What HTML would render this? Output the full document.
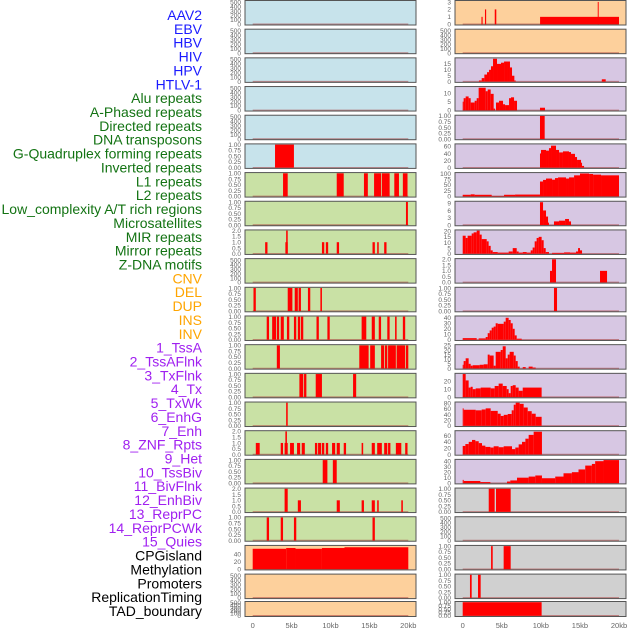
<!DOCTYPE html>
<html><head><meta charset="utf-8"><style>
html,body{margin:0;padding:0;background:#fff;}
svg{display:block;font-family:"Liberation Sans",sans-serif;}
</style></head><body>
<svg id="chart" width="630" height="630" viewBox="0 0 630 630" xmlns="http://www.w3.org/2000/svg"></svg>
<script>
const trackLabels=["AAV2","EBV","HBV","HIV","HPV","HTLV-1","Alu repeats","A-Phased repeats","Directed repeats","DNA transposons","G-Quadruplex forming repeats","Inverted repeats","L1 repeats","L2 repeats","Low_complexity A/T rich regions","Microsatellites","MIR repeats","Mirror repeats","Z-DNA motifs","CNV","DEL","DUP","INS","INV","1_TssA","2_TssAFlnk","3_TxFlnk","4_Tx","5_TxWk","6_EnhG","7_Enh","8_ZNF_Rpts","9_Het","10_TssBiv","11_BivFlnk","12_EnhBiv","13_ReprPC","14_ReprPCWk","15_Quies","CPGisland","Methylation","Promoters","ReplicationTiming","TAD_boundary"];
const xTickValues=[0,5,10,15,20];
const xTickLabels=["0","5kb","10kb","15kb","20kb"];
// tick kinds: c=counts 0..500, p=0..1, d=0..2, or explicit array
const ticksL=["c","c","c","c","c","p","p","p","d","c","p","p","p","p","p","d","p","d","p",[0,20,40],"c","c"];
const ymaxL=[520,520,520,520,520,1,1,1,2,520,1,1,1,1,1,2,1,2,1,61,520,520];
const segsL=[
[],[],[],[],[],
[[2.87,5.3,1]],
[[3.9,4.5,1],[10.8,11.7,1],[14.3,14.8,1],[15.6,16.5,1],[16.6,17.6,1],[18.2,18.8,1],[19.3,19.9,1]],
[[19.7,19.95,1]],
[[1.6,1.9,1],[4.2,4.5,1],[4.3,4.5,2],[8.9,9.2,1],[9.4,9.7,1],[10.8,11.1,1],[15.4,15.7,1],[16.0,16.2,1],[16.9,17.2,1]],
[],
[[0.1,0.4,1],[4.5,5.1,1],[5.4,5.8,1],[5.9,6.2,1],[7.1,7.4,1],[8.7,8.9,1]],
[[1.8,2.1,1],[2.5,3.0,1],[3.1,3.4,1],[3.6,4.0,1],[4.4,4.7,1],[5.3,5.6,1],[5.8,6.1,1],[6.2,6.5,1],[8.2,8.5,1],[9.6,9.9,1],[14.0,14.6,1],[15.3,15.7,1],[16.2,16.5,1],[17.3,17.6,1],[18.3,18.5,1],[19.3,19.6,1]],
[[3.1,3.5,1],[13.7,14.9,1],[15.1,15.7,1],[16.5,16.9,1],[17.0,17.3,1],[17.4,18.4,1],[18.5,19.6,1],[19.7,20,1]],
[[6.0,6.5,1],[6.6,6.9,1],[8.1,8.9,1],[12.9,13.3,1]],
[[4.3,4.5,1]],
[[0.4,0.9,1],[3.6,3.9,1],[4.1,4.5,1],[4.2,4.4,2],[4.8,5.3,1],[5.7,6.1,1],[6.3,6.7,1],[8.0,8.3,1],[8.4,8.8,1],[8.9,9.2,1],[9.4,9.7,1],[10.2,10.6,1],[10.8,11.2,1],[11.7,12.0,1],[14.0,14.2,1],[15.3,15.7,1],[16.0,16.6,1],[16.9,17.3,1],[17.4,17.7,1],[18.4,19.1,1],[19.6,19.9,1]],
[[9.0,9.6,1],[10.3,10.8,1]],
[[4.1,4.5,2],[5.8,6.2,1],[10.8,11.2,1],[14.0,14.3,1],[15.3,15.7,1],[16.0,16.2,1],[19.1,19.3,1]],
[[1.8,2.1,1],[3.6,3.9,1],[5.3,5.6,1],[15.4,15.7,1]],
[[0,4.3,54],[4.3,5.5,56],[5.5,8.9,54],[8.9,11.8,56],[11.8,20,58]],
[],[]
];
const ticksR=[[0,1,2,3],"c",[0,5,10,15],[0,5,10],"p",[0,20,40,60],[0,25,50,75,100],[0,3,6,9],[0,5,10,15,20],"d","p",[0,10,20,30,40],[0,5,10,15,20,25],[0,10,20],[0,20,40,60,80],[0,20,40,60],[0,10,20,30,40],"p","c","p","p","p"];
const ymaxR=[3.1,520,19.5,13.3,1,65,101,9.5,20.5,2,1,42,25,29,82,73,42,1,520,1,1,1];
const segsR=[
[[2.4,2.55,1],[2.85,3.0,2],[4.1,4.3,2],[9.9,20,1],[17.28,17.4,3]],
[],
[[2.08,2.43,1],[2.43,2.77,3],[2.77,3.11,6],[3.11,3.37,8],[3.37,3.62,10],[3.62,3.88,13],[3.88,4.39,19.3],[4.39,4.9,15],[4.9,5.29,16],[5.29,5.67,17],[5.67,6.05,17],[6.05,6.31,12],[6.31,6.61,5],[6.61,6.78,1],[17.8,18.3,2]],
[[0,0.12,5],[0.12,0.38,7],[0.38,0.76,8],[0.76,1.02,7],[1.02,1.53,4.5],[1.53,1.79,5.5],[1.79,2.04,7],[2.04,2.94,13],[2.94,3.2,11],[3.2,3.58,12],[3.58,3.96,9.5],[3.96,4.14,1],[4.26,4.65,4.5],[4.65,5.16,5.5],[5.16,5.42,3.5],[5.42,5.93,3],[5.93,6.18,7],[6.18,6.57,7.5],[6.57,6.95,5.5],[9.89,10.53,1.5]],
[[9.89,10.49,1]],
[[9.89,10.02,40],[10.02,10.66,50],[10.66,11.04,48],[11.04,11.3,55],[11.3,11.94,62],[11.94,12.33,50],[12.33,12.83,43],[12.83,13.6,46],[13.6,13.86,44],[13.86,14.37,39],[14.37,14.63,30],[14.63,15.14,22],[15.14,15.27,14],[15.27,15.53,5]],
[[0,1.02,7],[1.02,1.53,9],[1.53,3.71,7],[3.71,5.29,2],[5.29,6.7,7],[6.7,9.89,8],[9.89,10.28,65],[10.28,10.66,72],[10.66,11.43,78],[11.43,11.81,73],[11.81,12.2,80],[12.2,13.22,83],[13.22,13.6,78],[13.6,14.25,83],[14.25,15.01,92],[15.01,16.17,100],[16.17,16.68,98],[16.68,17.7,95],[17.7,20,92]],
[[9.89,10.28,9.4],[10.28,10.66,6],[10.66,10.92,3.5],[10.92,11.04,1],[11.68,12.33,1.5],[12.33,13.1,1.8],[13.1,13.6,2.5],[13.6,13.86,1.5]],
[[0,0.38,16],[0.38,0.63,14],[0.63,1.15,16],[1.15,1.4,18],[1.4,1.79,19],[1.79,2.17,20.5],[2.17,2.43,17],[2.43,3.07,13],[3.07,3.32,11],[3.32,3.58,7],[3.58,3.84,3],[3.84,4.48,1.5],[4.48,5.88,1],[5.88,6.4,2],[6.4,6.91,5],[6.91,7.16,2],[7.16,7.68,1],[7.68,8.19,1.5],[8.19,8.7,1],[8.7,8.95,3],[8.95,9.21,5.5],[9.21,9.46,11],[9.46,9.72,14],[9.72,10.1,15],[10.1,10.36,12],[10.36,10.62,5],[10.62,11.04,1.5],[11.43,12.97,0.8],[12.97,13.73,1.2],[13.73,14.5,1],[14.5,14.76,2],[14.76,15.01,5],[15.01,15.27,3]],
[[11.17,11.43,1],[11.43,11.94,2],[17.57,18.47,1]],
[[11.68,12.07,1]],
[[0,1.79,3],[2.04,2.94,2.5],[2.94,3.2,5],[3.2,3.45,12],[3.45,3.71,17],[3.71,3.96,22],[3.96,4.22,24],[4.22,4.48,30],[4.48,5.25,29],[5.25,5.5,33],[5.5,5.88,40],[5.88,6.14,36],[6.14,6.4,30],[6.4,6.65,20],[6.65,6.91,8],[6.91,7.55,2]],
[[0,0.12,4],[0.12,0.38,8],[0.38,0.76,11],[0.76,1.02,5],[1.02,1.28,3],[1.28,2.17,3.5],[2.17,2.68,4],[2.68,3.2,4.5],[3.2,3.45,15],[3.45,3.96,14],[3.96,4.22,3],[4.22,4.86,18],[4.86,5.12,20],[5.12,5.5,24],[5.5,5.76,11],[5.76,6.01,15],[6.01,6.53,18],[6.53,6.78,14],[6.78,7.04,8],[7.04,7.29,2],[7.68,8.06,1.5],[8.44,8.95,2],[8.95,9.34,1]],
[[0,0.38,29],[0.38,0.76,21],[0.76,1.02,12],[1.02,1.28,13],[1.28,1.66,10],[1.66,2.3,11],[2.3,3.58,12],[3.58,4.09,11],[4.09,4.6,14],[4.6,5.12,17],[5.12,5.63,14],[5.63,5.88,10],[5.88,6.14,5],[6.14,6.4,14],[6.4,6.78,15],[6.78,7.16,12],[7.16,7.68,8],[7.68,10.1,12]],
[[0,0.12,62],[0.12,1.66,57],[1.66,2.43,55],[2.43,2.94,58],[2.94,3.58,62],[3.58,4.48,53],[4.48,4.86,43],[4.86,5.25,35],[5.25,5.76,39],[5.76,6.27,42],[6.27,6.53,55],[6.53,6.78,75],[6.78,7.29,82],[7.29,7.8,78],[7.8,8.32,65],[8.32,8.83,52],[8.83,9.34,43],[9.34,10.1,32]],
[[0,0.34,27],[0.34,0.77,33],[0.77,1.19,40],[1.19,1.62,46],[1.62,2.05,42],[2.05,2.47,36],[2.47,2.9,28],[2.9,3.54,24],[3.54,3.96,22],[3.96,4.6,26],[4.6,5.24,23],[5.24,6.31,26],[6.31,6.73,17],[6.73,7.16,22],[7.16,7.59,32],[7.59,8.02,40],[8.02,8.44,50],[8.44,9.08,62],[9.08,10.14,72]],
[[0,0.13,6],[0.13,2.26,4],[2.26,3.54,2],[5.67,6.09,3],[6.09,6.95,5],[6.95,8.44,10],[8.44,9.29,12],[9.29,10.14,14],[10.14,11.84,9],[11.84,12.9,12],[12.9,13.97,18],[13.97,14.82,20],[14.82,15.68,25],[15.68,16.53,32],[16.53,16.95,35],[16.95,18.02,40],[18.02,20,42]],
[[3.33,4.09,1],[4.26,6.14,1]],
[],
[[3.63,3.84,1],[5.24,6.14,1]],
[[0.93,1.15,1],[1.96,2.3,1]],
[[0,10.1,1]]
];
const bgL=["#c7e3eb","#c7e3eb","#c7e3eb","#c7e3eb","#c7e3eb","#c7e3eb","#c9e1a5","#c9e1a5","#c9e1a5","#c9e1a5","#c9e1a5","#c9e1a5","#c9e1a5","#c9e1a5","#c9e1a5","#c9e1a5","#c9e1a5","#c9e1a5","#c9e1a5","#fdd09c","#fdd09c","#fdd09c"];
const bgR=["#fdd09c","#fdd09c","#d7c7e3","#d7c7e3","#d7c7e3","#d7c7e3","#d7c7e3","#d7c7e3","#d7c7e3","#d7c7e3","#d7c7e3","#d7c7e3","#d7c7e3","#d7c7e3","#d7c7e3","#d7c7e3","#d7c7e3","#d0d0d0","#d0d0d0","#d0d0d0","#d0d0d0","#d0d0d0"];

const NS="http://www.w3.org/2000/svg";
const svg=document.getElementById("chart");
function mk(tag,attrs,parent){const e=document.createElementNS(NS,tag);for(const k in attrs)e.setAttribute(k,attrs[k]);(parent||svg).appendChild(e);return e;}

function labelColor(i){if(i<6)return"#1a1aff";if(i<19)return"#137313";if(i<24)return"#ffa500";if(i<39)return"#a020f0";return"#000";}
trackLabels.forEach((t,i)=>{
  const e=mk("text",{x:202,y:15+i*13.86+5,"text-anchor":"end","font-size":"14",fill:labelColor(i)});
  
  
  e.textContent=t;
});

const cols=[{x0:245,x1:416,z:252.7,s:7.78,ticks:ticksL,ymax:ymaxL,segs:segsL,bg:bgL,name:"left"},
            {x0:455,x1:626,z:462.7,s:7.815,ticks:ticksR,ymax:ymaxR,segs:segsR,bg:bgR,name:"right"}];
function rowTop(r){return r===21?601.5:0.5+r*28.68;}
function rowH(r){return r===21?15:24.5;}
function tickInfo(k){
  if(k==="c")return{v:[0,100,200,300,400,500],f:v=>String(v)};
  if(k==="p")return{v:[0,0.25,0.5,0.75,1],f:v=>v.toFixed(2)};
  if(k==="d")return{v:[0,0.5,1,1.5,2],f:v=>v.toFixed(1)};
  return{v:k,f:v=>String(v)};
}
cols.forEach(c=>{
  const xs=kb=>c.z+kb*c.s;
  for(let r=0;r<22;r++){
    const top=rowTop(r),h=rowH(r);
    const g=mk("g",{});
    
    
    const bg=mk("rect",{x:c.x0,y:top,width:c.x1-c.x0,height:h,fill:c.bg[r]},g);
    
    
    const bottom=top+h-0.7, span=h-1.4, ymax=c.ymax[r];
    const ys=v=>bottom-v/ymax*span;
    const base=mk("line",{x1:xs(0),x2:xs(20),y1:bottom,y2:bottom,stroke:"rgba(170,60,60,0.55)","stroke-width":1.5},g);
    
    
    c.segs[r].forEach(s=>{
      const b=mk("rect",{x:xs(s[0]),y:ys(s[2]),width:Math.max(0.8,xs(s[1])-xs(s[0])),height:bottom-ys(s[2]),fill:"#ff0000"},g);
      
      
    });
    const border=mk("rect",{x:c.x0,y:top,width:c.x1-c.x0,height:h,fill:"none",stroke:"#555","stroke-width":1},g);
    
    
    const ti=tickInfo(c.ticks[r]);
    ti.v.forEach(v=>{
      const t=mk("text",{x:c.x0-4,y:ys(v)+2.3,"text-anchor":"end","font-size":"6.5",fill:"#666"},g);
      
      
      t.textContent=ti.f(v);
    });
  }
  xTickValues.forEach((v,i)=>{
    const t=mk("text",{x:xs(v),y:628,"text-anchor":"middle","font-size":"7.5",fill:"#666"});
    
    
    t.textContent=xTickLabels[i];
  });
});
</script>
</body></html>
